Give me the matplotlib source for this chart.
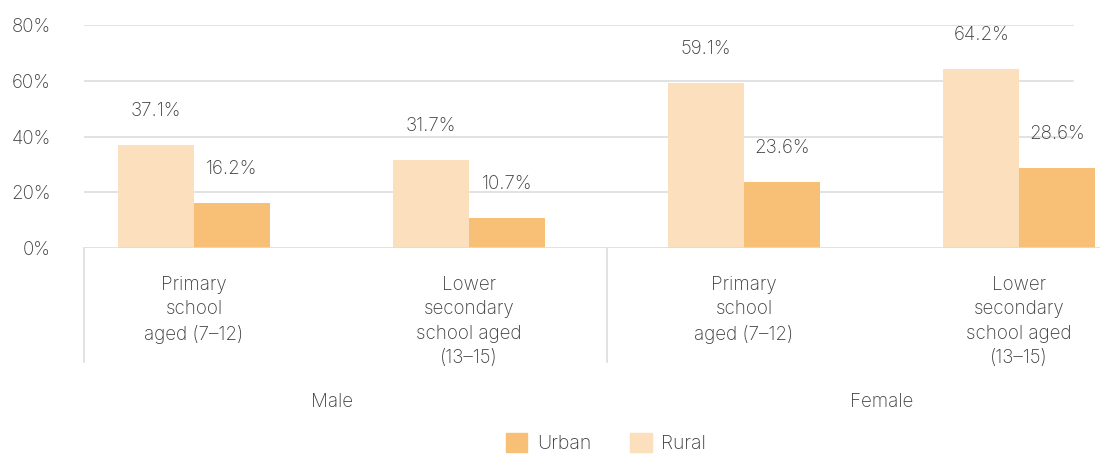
import numpy as np
import matplotlib.pyplot as plt
from matplotlib.patches import Patch
import matplotlib.transforms as mtransforms

plt.rcParams['font.family'] = ['Inter', 'DejaVu Sans']
plt.rcParams['font.weight'] = 'light'

categories = ["Primary\nschool\naged (7\u201312)", "Lower\nsecondary\nschool aged\n(13\u201315)",
              "Primary\nschool\naged (7\u201312)", "Lower\nsecondary\nschool aged\n(13\u201315)"]
groups = ["Male", "Female"]
rural = [37.1, 31.7, 59.1, 64.2]
urban = [16.2, 10.7, 23.6, 28.6]
yticks = [0, 20, 40, 60, 80]

rural_color = '#FCDFBC'
urban_color = '#F8BF77'
text_color = '#3d3d3d'
line_color = '#DDDDDD'
fs = 13.5

fig = plt.figure(figsize=(11.15, 4.54), dpi=100)
ax = fig.add_axes([84/1115, 1 - 248/454, (1100 - 84)/1115, (248 - 25)/454])

x = np.arange(len(categories))
w = 0.276
ax.bar(x - w/2, rural, w, color=rural_color, zorder=3)
ax.bar(x + w/2, urban, w, color=urban_color, zorder=3)

# value labels
for xi, v in zip(x - w/2, rural):
    ax.annotate(f"{v}%", (xi, v), xytext=(0, 34), textcoords='offset pixels',
                ha='center', va='center', fontsize=fs, color=text_color)
for xi, v in zip(x + w/2, urban):
    ax.annotate(f"{v}%", (xi, v), xytext=(0, 34), textcoords='offset pixels',
                ha='center', va='center', fontsize=fs, color=text_color)

ax.set_xlim(-0.4, 3.294)
ax.set_ylim(0, 80)
ax.set_xticks([])
ax.set_yticks(yticks)
ax.set_yticklabels([f"{t}%" for t in yticks], fontsize=fs, color=text_color)
ax.tick_params(axis='y', length=0, pad=24)
for s in ax.spines.values():
    s.set_visible(False)

# gridlines
for t in yticks[1:]:
    ax.axhline(t, xmax=(1073 - 84)/(1100 - 84), color=line_color, lw=1.2, zorder=1)
ax.axhline(0, color=line_color, lw=1.2, zorder=4)

trans = mtransforms.blended_transform_factory(ax.transData, ax.transAxes)

# category labels
for xi, lab in zip(x, categories):
    ax.annotate(lab, (xi, 0), xycoords=trans, xytext=(0, -28), textcoords='offset pixels',
                ha='center', va='top', fontsize=fs, color=text_color, linespacing=1.45)

# group separators
for sx in [-0.4, 1.5]:
    ax.plot([sx, sx], [0, -114/223], transform=trans, color=line_color, lw=1.2, clip_on=False)

# group labels
for gx, g in zip([0.5, 2.5], groups):
    ax.annotate(g, (gx, 0), xycoords=trans, xytext=(0, -154), textcoords='offset pixels',
                ha='center', va='center', fontsize=fs, color=text_color)

handles = [Patch(color=urban_color, label='Urban'), Patch(color=rural_color, label='Rural')]
leg = fig.legend(handles=handles, loc='center', bbox_to_anchor=(606/1115, 1 - 443/454),
                 ncol=2, frameon=False, fontsize=14, handlelength=1.1, handleheight=1.1,
                 columnspacing=2.0, handletextpad=0.5)
for t in leg.get_texts():
    t.set_color(text_color)

fig.savefig('out.png', dpi=100)
